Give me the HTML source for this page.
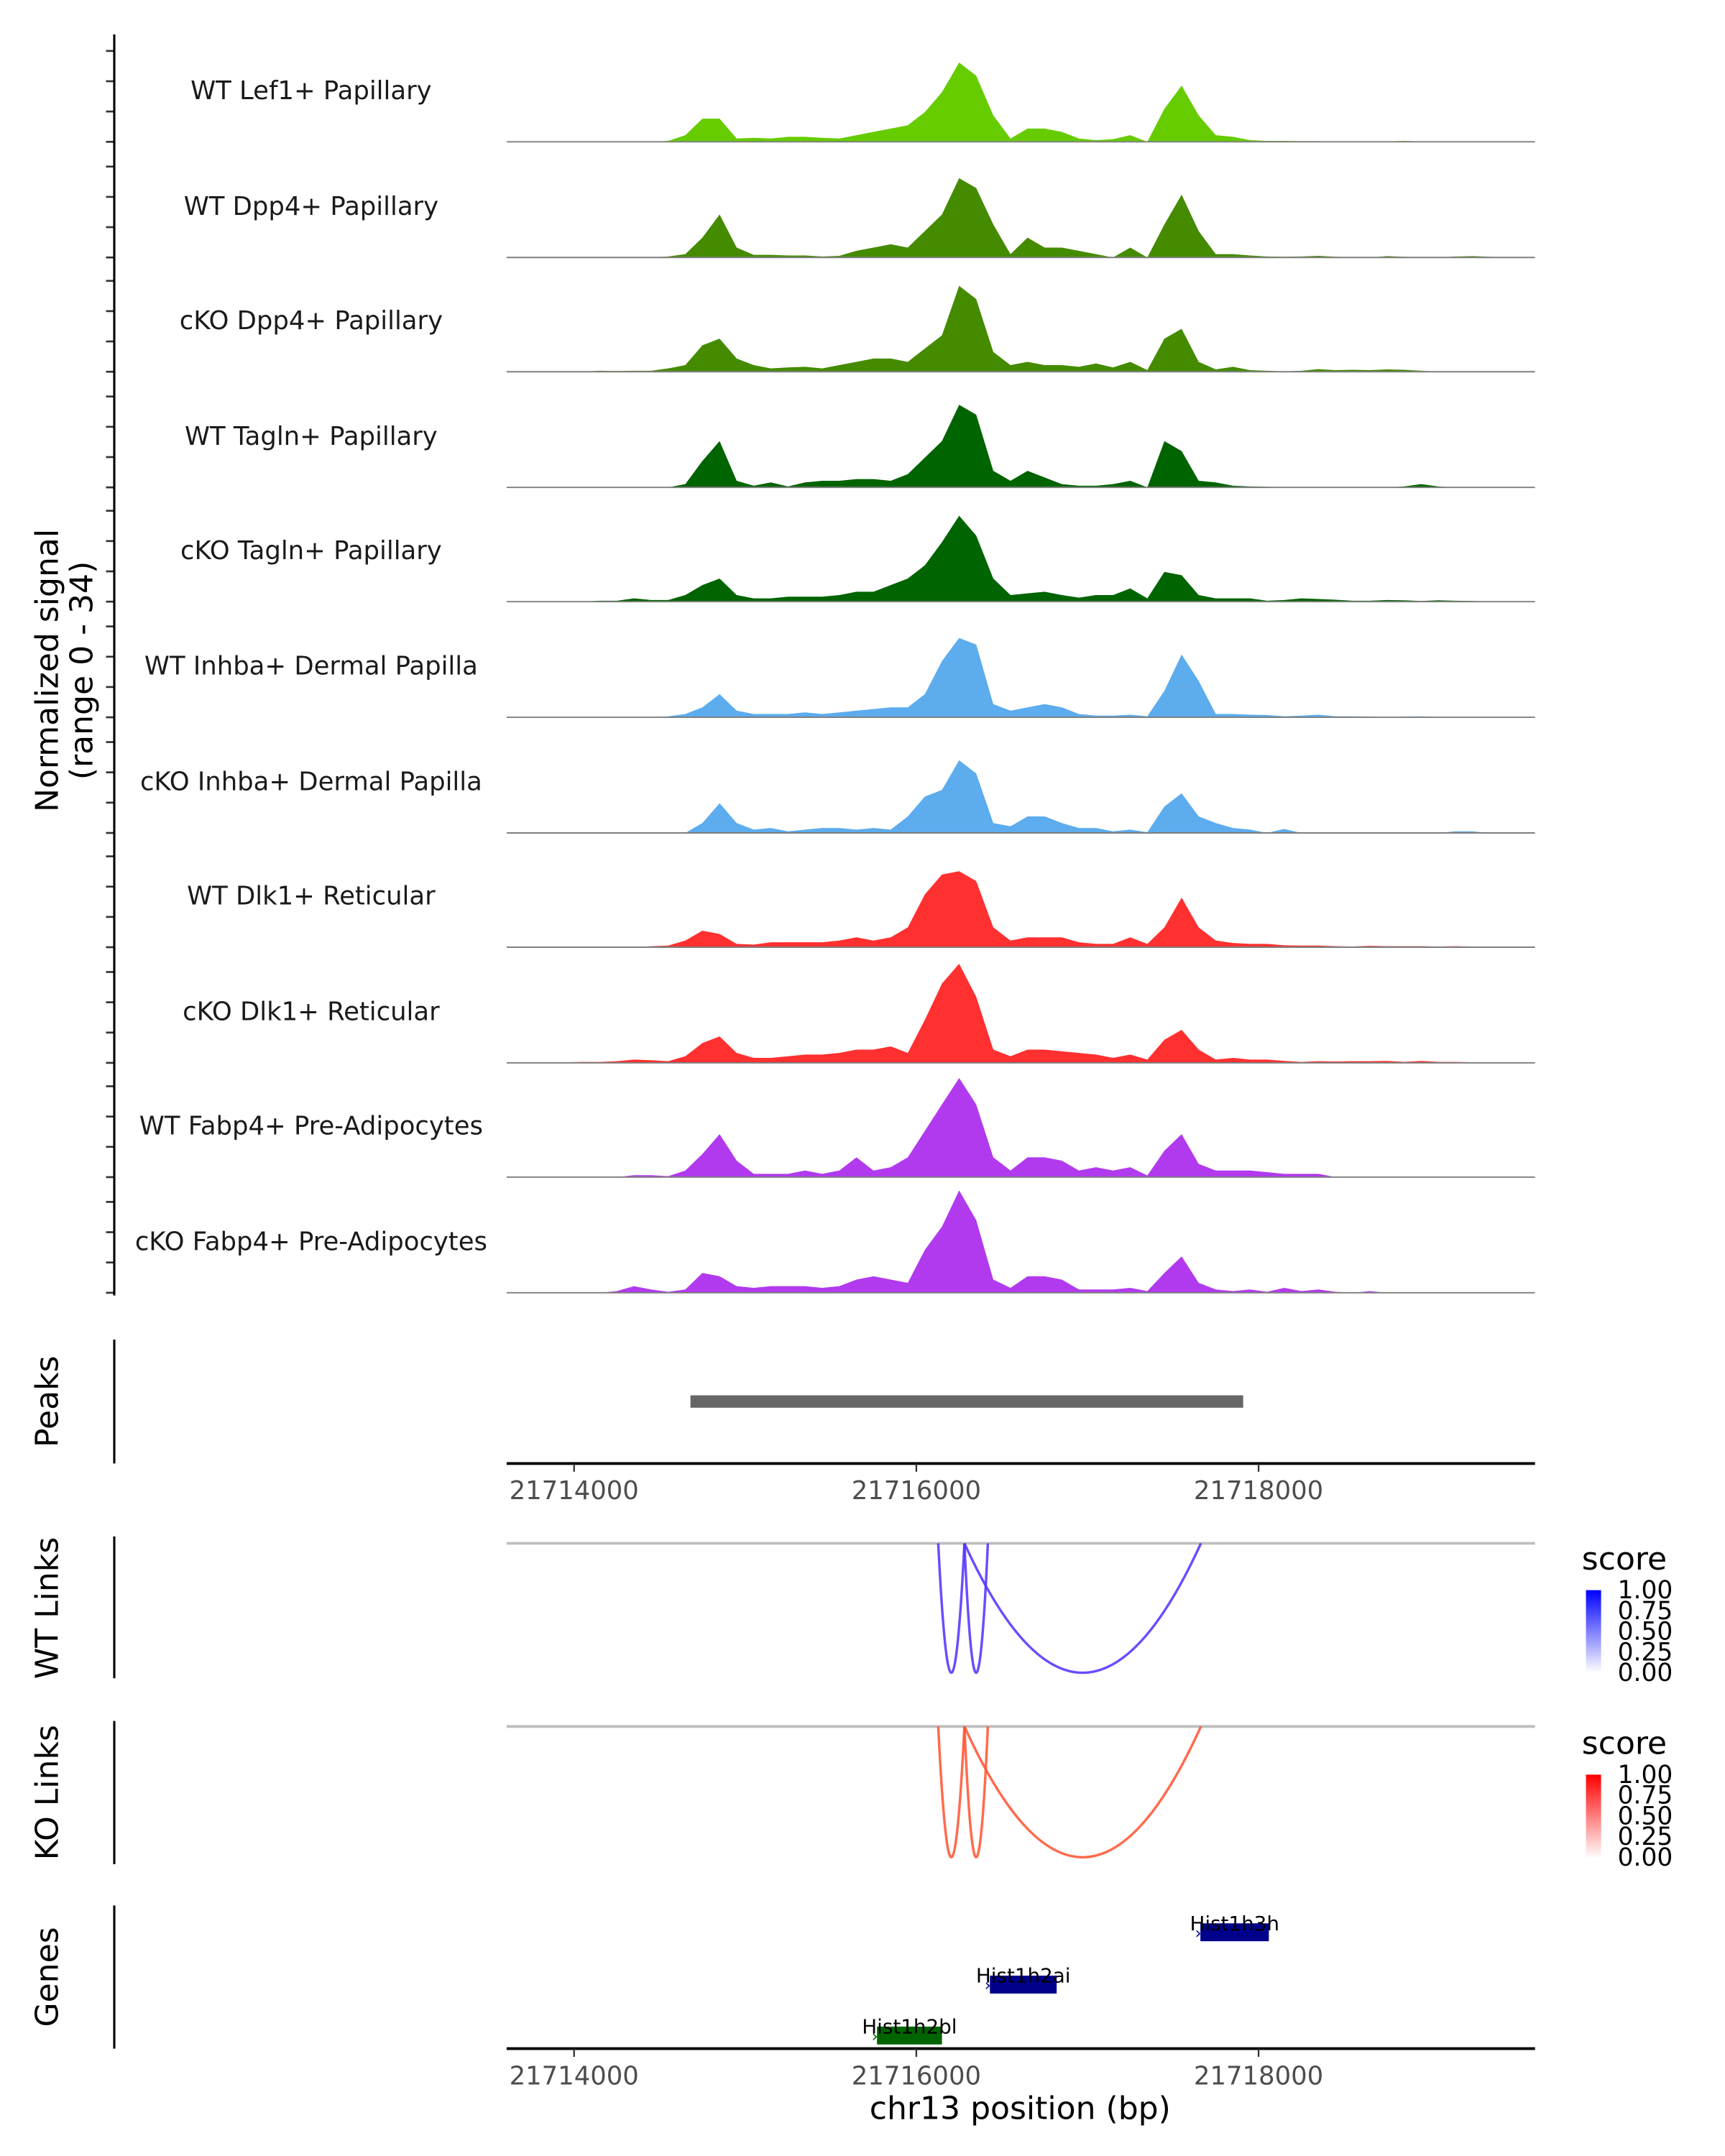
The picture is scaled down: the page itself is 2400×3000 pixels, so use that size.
<!DOCTYPE html>
<html><head><meta charset="utf-8"><style>
html,body{margin:0;padding:0;background:#fff}
svg{display:block;font-family:"DejaVu Sans","Liberation Sans",sans-serif}
</style></head><body>
<svg id="chart" width="2400" height="3000" viewBox="0 0 1253 1566" preserveAspectRatio="none" xmlns="http://www.w3.org/2000/svg">
<g id="tracks"></g>
<line x1="83" y1="25" x2="83" y2="941" stroke="#000" stroke-width="1.6"/>
<text transform="translate(42,487) rotate(-90)" text-anchor="middle" font-size="23" fill="#000">Normalized signal</text>
<text transform="translate(67,487) rotate(-90)" text-anchor="middle" font-size="23" fill="#000">(range 0 - 34)</text>

<line x1="83" y1="973" x2="83" y2="1063" stroke="#000" stroke-width="1.6"/>
<text transform="translate(42,1018) rotate(-90)" text-anchor="middle" font-size="23">Peaks</text>
<g id="peaks"></g>
<g id="xaxis1"></g>

<line x1="83" y1="1116" x2="83" y2="1219" stroke="#000" stroke-width="1.6"/>
<text transform="translate(42,1168) rotate(-90)" text-anchor="middle" font-size="23">WT Links</text>
<line x1="83" y1="1250" x2="83" y2="1354" stroke="#000" stroke-width="1.6"/>
<text transform="translate(42,1302) rotate(-90)" text-anchor="middle" font-size="23">KO Links</text>
<g id="links"></g>

<defs>
<linearGradient id="gBlue" x1="0" y1="1" x2="0" y2="0"><stop offset="0" stop-color="#fff"/><stop offset="1" stop-color="#0000ff"/></linearGradient>
<linearGradient id="gRed" x1="0" y1="1" x2="0" y2="0"><stop offset="0" stop-color="#fff"/><stop offset="1" stop-color="#ff0000"/></linearGradient>
</defs>
<g>
<text x="1149" y="1140" font-size="23">score</text>
<rect x="1152" y="1155" width="11" height="60" fill="url(#gBlue)"/>
<g font-size="18" fill="#000"><text x="1175" y="1161">1.00</text><text x="1175" y="1176">0.75</text><text x="1175" y="1191">0.50</text><text x="1175" y="1206">0.25</text><text x="1175" y="1221">0.00</text></g>
</g>
<g>
<text x="1149" y="1274" font-size="23">score</text>
<rect x="1152" y="1289" width="11" height="61" fill="url(#gRed)"/>
<g font-size="18" fill="#000"><text x="1175" y="1295">1.00</text><text x="1175" y="1310">0.75</text><text x="1175" y="1325">0.50</text><text x="1175" y="1340">0.25</text><text x="1175" y="1355">0.00</text></g>
</g>

<line x1="83" y1="1384" x2="83" y2="1488" stroke="#000" stroke-width="1.6"/>
<text transform="translate(42,1436) rotate(-90)" text-anchor="middle" font-size="23">Genes</text>
<g id="genes"></g>
<g id="xaxis2"></g>
<text x="741" y="1539" text-anchor="middle" font-size="23">chr13 position (bp)</text>
</svg>
<script>
const binStart = 21713800;
const binSize = 100;
const trackNames = ["WT Lef1+ Papillary","WT Dpp4+ Papillary","cKO Dpp4+ Papillary","WT Tagln+ Papillary","cKO Tagln+ Papillary","WT Inhba+ Dermal Papilla","cKO Inhba+ Dermal Papilla","WT Dlk1+ Reticular","cKO Dlk1+ Reticular","WT Fabp4+ Pre-Adipocytes","cKO Fabp4+ Pre-Adipocytes"];
const trackColors = ["#66cc00","#458b00","#458b00","#006400","#006400","#5cacee","#5cacee","#ff3030","#ff3030","#b23aee","#b23aee"];
const sLef1WT = [0,0,0,0,0,0,0,0.3,2,7,7,1,1.2,1,1.5,1.5,1.2,1,2,3,4,5,9,15,24,20,8,1,4,4,3,1,0.5,0.8,2,0,10,17,8,2,1.5,0.5,0.3,0.3,0.2,0.2,0.1,0.1,0.1,0.1,0.3,0.1,0.1,0,0,0,0];
const sDpp4WT = [0,0,0,0,0,0,0,0.3,1,6,13,3,0.8,0.8,0.6,0.6,0.3,0.5,2,3,4,3,8,13,24,21,10,1,6,3,3,2,1,0,3,0,10,19,8,1,1,0.6,0.3,0.2,0.3,0.5,0.2,0,0,0.4,0.2,0,0,0.3,0.4,0.2,0];
const sDpp4KO = [0,0,0,0.3,0.2,0.3,0.3,1,2,8,10,4,2,1,1.3,1.5,1,2,3,4,4,3,7,11,26,22,6,2,3,2,2,1.5,2.5,1.3,3,0.5,10,13,3,0.7,1.5,0.5,0.3,0.1,0.3,0.8,0.5,0.6,0.5,0.7,0.6,0.3,0,0,0,0,0];
const sTaglnWT = [0,0,0,0,0,0,0,0,1,8,14,2,0.5,1.5,0.3,1.5,2,2,2.5,2.5,2,4,9,14,25,22,5,2,5,3,1,0.5,0.5,1,2,0,14,11,2,1.5,0.5,0.3,0.2,0,0,0,0,0,0,0,0.3,1,0.3,0,0,0,0];
const sTaglnKO = [0,0,0,0.3,0.3,1,0.5,0.5,2,5,7,2,1,1,1.5,1.5,1.5,2,3,3,5,7,11,18,26,20,7,2,2.5,3,2,1.2,2,2,4,1,9,8,2,1,1,1,0.3,0.5,1,0.8,0.6,0.3,0.3,0.5,0.4,0.2,0.4,0.3,0.2,0.1,0];
const sInhbaWT = [0,0,0,0,0,0,0,0.3,1,3,7,2,1,1,1,1.5,1,1.5,2,2.5,3,3,7,17,24,22,4,2,3,4,3,1,0.5,0.5,0.8,0.3,8,19,11,1,1,0.8,0.7,0.3,0.5,0.8,0.3,0.3,0.2,0.1,0.2,0.3,0,0,0,0,0];
const sInhbaKO = [0,0,0,0,0,0,0,0,0,3,9,3,1,1.5,0.5,1,1.5,1.5,1,1.5,1,5,11,13,22,18,3,2,5,5,3,1.5,1.5,0.5,1,0.2,8,12,5,3,1.5,1,0,1.2,0,0,0,0,0,0,0,0,0,0.5,0.5,0,0];
const sDlk1WT = [0,0,0,0,0,0,0.3,0.5,2,5,4,1,0.8,1.5,1.5,1.5,1.5,2,3,2,3,6,16,22,23,20,6,2,3,3,3,1.5,1,1,3,1,6,15,6,2,1.3,1,1,0.6,0.5,0.5,0.3,0.2,0.4,0.3,0.3,0.3,0.2,0.3,0.2,0,0];
const sDlk1KO = [0,0.2,0.3,0.3,0.5,1,0.8,0.5,2,6,8,3,1.5,1.5,2,2.5,2.5,3,4,4,5,3,13,24,30,20,4,2,4,4,3.5,3,2.5,1.5,2.5,1,7,10,4,1,1.5,1,1,0.6,0.3,0.5,0.4,0.5,0.5,0.6,0.3,0.6,0.3,0.3,0.2,0,0];
const sFabp4WT = [0,0,0,0,0,0.6,0.6,0.3,2,7,13,5,1,1,1,2,1,2,6,2,3,6,14,22,30,22,6,2,6,6,5,2,3,2,3,0.5,8,13,4,2,2,2,1.5,1,1,1,0,0,0,0,0,0,0,0,0,0,0];
const sFabp4KO = [0,0,0,0,0.5,2,1,0.3,1,6,5,2,1.5,2,2,2,1.5,2,4,5,4,3,13,20,31,22,4,1.5,5,5,4,1,1,1,1.5,0.5,6,11,3,1,0.5,1,0.3,1.5,0.5,1,0.3,0,0.5,0,0,0,0,0,0,0,0];
const trackSignals = [sLef1WT,sDpp4WT,sDpp4KO,sTaglnWT,sTaglnKO,sInhbaWT,sInhbaKO,sDlk1WT,sDlk1KO,sFabp4WT,sFabp4KO];
const yTicks = [0,10,20,30];
const peakStarts = [21714680];
const peakEnds = [21717910];
const xTicks = [21714000,21716000,21718000];
const linkStarts = [21716128,21716281,21716281];
const linkEnds = [21716281,21716418,21717663];
const wtScores = [0.8,0.8,0.8];
const koScores = [0.8,0.8,0.8];
const geneNames = ["Hist1h3h","Hist1h2ai","Hist1h2bl"];
const geneStarts = [21717660,21716430,21715770];
const geneEnds = [21718060,21716820,21716150];
const geneRows = [0,1,2];
const geneColors = ["#00008b","#00008b","#006400"];

const NS = "http://www.w3.org/2000/svg";
const X0 = 368, X1 = 1115;
function xs(bp){ return 417 + (bp - 21714000) * 0.1243; }
const PXU = 2.4;
const baselines = [103,187,270,354,437,521,605,688,772,855,939];
function mk(tag, attrs, parent){ const e=document.createElementNS(NS,tag); for(const k in attrs) e.setAttribute(k,attrs[k]); parent.appendChild(e); return e; }

const tg = document.getElementById('tracks');
trackSignals.forEach((vals, t) => {
  const b = baselines[t];
  const g = mk('g', {}, tg);
  
  
  let d = 'M' + xs(binStart) + ',' + b;
  vals.forEach((v, i) => {
    const cx = xs(binStart + binSize * i + binSize / 2);
    d += ' L' + cx.toFixed(1) + ',' + (b - v * PXU).toFixed(1);
  });
  d += ' L' + xs(binStart + binSize * vals.length) + ',' + b + ' Z';
  const p = mk('path', {d: d, fill: trackColors[t]}, g);
  
  
  const bl = mk('line', {x1: X0, x2: X1, y1: b, y2: b, stroke: '#7f7f7f', 'stroke-width': 1}, g);
  
  
  const lab = mk('text', {x: 226, y: b - 31, 'text-anchor': 'middle', 'font-size': 18.5, fill: '#1a1a1a'}, g);
  lab.textContent = trackNames[t];
  
  
  yTicks.forEach(v => {
    const tk = mk('line', {x1: 77, x2: 83, y1: b - v * 2.2, y2: b - v * 2.2, stroke: '#333', 'stroke-width': 1.4}, g);
    
    
  });
});

const pg = document.getElementById('peaks');
peakStarts.forEach((s, i) => {
  const r = mk('rect', {x: xs(s), y: 1013.5, width: xs(peakEnds[i]) - xs(s), height: 9, fill: '#666666'}, pg);
  
  
});

function drawAxis(id, y){
  const g = document.getElementById(id);
  const l = mk('line', {x1: X0, x2: X1, y1: y, y2: y, stroke: '#000', 'stroke-width': 2}, g);
  
  
  xTicks.forEach(v => {
    const tk = mk('line', {x1: xs(v), x2: xs(v), y1: y, y2: y + 6, stroke: '#333', 'stroke-width': 1.2}, g);
    
    
    const t = mk('text', {x: xs(v), y: y + 26, 'text-anchor': 'middle', 'font-size': 18.5, fill: '#4d4d4d'}, g);
    t.textContent = v;
    
    
  });
}
drawAxis('xaxis1', 1063);
drawAxis('xaxis2', 1488);

const lg = document.getElementById('links');
function drawLinks(top, bottom, scores, color){
  const gl = mk('line', {x1: X0, x2: X1, y1: top, y2: top, stroke: '#bebebe', 'stroke-width': 2}, lg);
  
  
  const depth = (bottom - top) * 2;
  linkStarts.forEach((s, i) => {
    const a = xs(s), b = xs(linkEnds[i]);
    const p = mk('path', {d: `M${a},${top} Q${(a + b) / 2},${top + depth} ${b},${top}`, fill: 'none', stroke: color, 'stroke-width': 1.8, 'stroke-opacity': 0.4 + 0.6 * scores[i]}, lg);
    
    
  });
}
drawLinks(1121, 1215, wtScores, '#5533ff');
drawLinks(1254, 1349, koScores, '#ff5533');

const gg = document.getElementById('genes');
const rowY = [1397, 1435, 1472];
geneNames.forEach((n, i) => {
  const y = rowY[geneRows[i]];
  const r = mk('rect', {x: xs(geneStarts[i]), y: y, width: xs(geneEnds[i]) - xs(geneStarts[i]), height: 13, fill: geneColors[i]}, gg);
  
  
  const ar = mk('text', {x: xs(geneStarts[i]) - 4, y: y + 11, 'font-size': 12, fill: geneColors[i]}, gg);
  ar.textContent = '›';
  
  
  const t = mk('text', {x: (xs(geneStarts[i]) + xs(geneEnds[i])) / 2, y: y + 5, 'text-anchor': 'middle', 'font-size': 14.5, fill: '#000'}, gg);
  t.textContent = n;
  
  
});
</script>
</body></html>
